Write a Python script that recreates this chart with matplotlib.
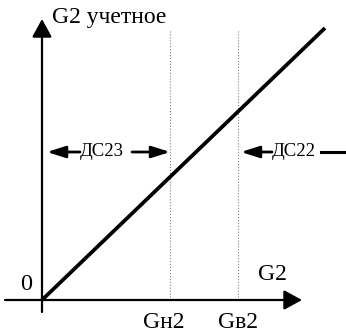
import matplotlib.pyplot as plt

# характеристика G2 учетное = f(G2), единицы условные (пиксели от начала координат)
g2 = [0, 283]
g2_uch = [0, 272]
g_n2 = 128   # Gн2
g_v2 = 196   # Gв2
dash_top = 270

plt.rcParams['font.family'] = ['Liberation Serif', 'DejaVu Serif']

fig = plt.figure(figsize=(3.46, 3.36), dpi=100)
ax = fig.add_axes([0, 0, 1, 1])
ax.set_xlim(-42, 304)
ax.set_ylim(-36, 300)
ax.axis('off')

big = '-|>,head_length=1.1,head_width=0.6'
small = '-|>,head_length=1.1,head_width=0.35'

# оси со стрелками
ax.annotate('', xy=(260, 0), xytext=(-37, 0),
            arrowprops=dict(arrowstyle=big, lw=1.6, color='black',
                            shrinkA=0, shrinkB=0))
ax.annotate('', xy=(0, 281), xytext=(0, -12),
            arrowprops=dict(arrowstyle=big, lw=1.6, color='black',
                            shrinkA=0, shrinkB=0))

# границы
for g in (g_n2, g_v2):
    ax.plot([g, g], [0, dash_top], ls=':', lw=0.8, color='gray')

ax.plot(g2, g2_uch, color='black', lw=2.7, solid_capstyle='butt')

ax.text(10, 283, 'G2 учетное', fontsize=17, va='center', ha='left')
ax.text(-16, 16, '0', fontsize=17.5, va='center', ha='center')
ax.text(230, 25, 'G2', fontsize=17, va='center', ha='center')
ax.text(g_n2 - 6, -23, 'Gн2', fontsize=17, va='center', ha='center')
ax.text(g_v2, -23, 'Gв2', fontsize=17, va='center', ha='center')

# зоны ДС23 и ДС22
y_ds = 148
ax.annotate('', xy=(5, y_ds), xytext=(38, y_ds),
            arrowprops=dict(arrowstyle=small, lw=2, color='black',
                            shrinkA=0, shrinkB=0))
ax.text(38, y_ds, 'ДС23', fontsize=13.5, va='center', ha='left')
ax.annotate('', xy=(g_n2, y_ds), xytext=(90, y_ds),
            arrowprops=dict(arrowstyle=small, lw=2, color='black',
                            shrinkA=0, shrinkB=0))
ax.annotate('', xy=(g_v2 + 3, y_ds), xytext=(230, y_ds),
            arrowprops=dict(arrowstyle=small, lw=2, color='black',
                            shrinkA=0, shrinkB=0))
ax.text(230, y_ds, 'ДС22', fontsize=13.5, va='center', ha='left')
ax.plot([279, 310], [y_ds, y_ds], color='black', lw=2.2)

fig.savefig('out.png', dpi=100)
